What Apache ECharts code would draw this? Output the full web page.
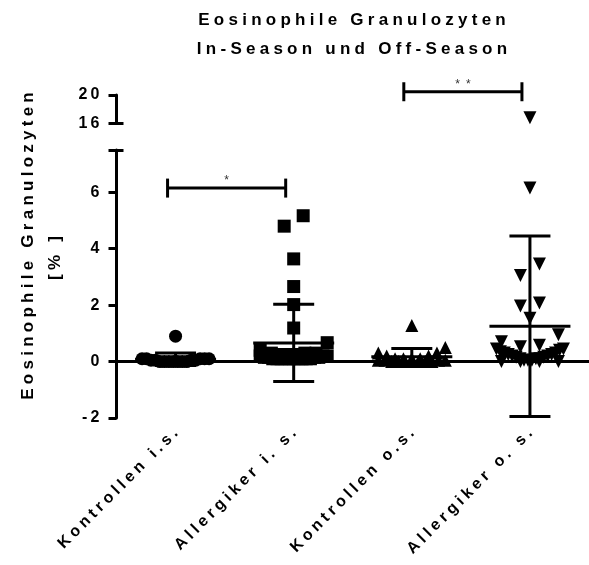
<!DOCTYPE html>
<html>
<head>
<meta charset="utf-8">
<script src="https://cdn.jsdelivr.net/npm/echarts@6/dist/echarts.min.js"></script>
<style>
  html, body { margin: 0; padding: 0; background: #fff; }
  #chart { width: 589px; height: 565px; }
</style>
</head>
<body>
<div id="chart"></div>
<script>
// Eosinophil counts (%) per group
const categories = ['Kontrollen i.s.', 'Allergiker i. s.', 'Kontrollen o.s.', 'Allergiker o. s.'];

const kontrollenIS = [0.9, 0.1, 0.1, 0.1, 0.1, 0.1, 0.05, 0.05, 0.05, 0.05, 0, 0, 0, 0, 0, 0, 0];
const allergikerIS = [5.17, 4.8, 3.64, 2.66, 2.02, 1.19, 0.67, 0.4, 0.3, 0.3, 0.3, 0.25, 0.25,
  0.2, 0.2, 0.2, 0.15, 0.15, 0.15, 0.15, 0.1, 0.1, 0.1, 0.1, 0.1, 0.1, 0.1, 0.1, 0.1, 0.1];
const kontrollenOS = [1.28, 0.5, 0.3, 0.3, 0.2, 0.2, 0.1, 0.1, 0.1, 0.1, 0.05, 0.05, 0.05, 0.05,
  0, 0, 0, 0, 0, 0, 0];
const allergikerOS = [16.8, 6.15, 3.46, 3.05, 2.08, 1.97, 1.54, 0.95, 0.7, 0.58, 0.53, 0.45, 0.45,
  0.4, 0.35, 0.3, 0.3, 0.25, 0.25, 0.2, 0.2, 0.15, 0.15, 0.1, 0.1, 0.1, 0.05, 0.05, 0.05, 0, 0, 0, 0];

// Mean ± SD per group
const groupMeans = [0.08, 0.66, 0.17, 1.25];
const groupSD = [0.22, 1.37, 0.29, 3.2];

// Significance brackets
const sigPairs = [[0, 1], [2, 3]];
const sigLevels = [6.15, 20.46];
const sigMarks = ['*', '**'];

// Axis segments (broken y axis)
const lowerTicks = [-2, 0, 2, 4, 6];
const lowerRange = [-2, 7.5];
const upperTicks = [16, 20];
const upperRange = [16, 20];

// ---- styling / layout ----
const FONT = "'Liberation Sans', Arial, Helvetica, sans-serif";
const WIDE = '\u2005';
const NARROW = '\u2009';
const spaced = (s, sp) => Array.from(String(s)).join(sp || WIDE);

const SYMBOLS = ['circle', 'rect', 'triangle', 'triangle'];
const ROTATE = [0, 0, 0, 180];
const SYMBOL_SIZE = 13;
const ROW_PX = 12;
const MAX_STEP = 19;
const MAX_SPREAD = 67;
const MEAN_HALF = 40.5;
const CAP_HALF = 20.5;
const BRACKET_SHIFT = -8;

const GRID_LEFT = 116.5;
const GRID_RIGHT = -8.3;

const groups = [kontrollenIS, allergikerIS, kontrollenOS, allergikerOS];

const chart = echarts.init(document.getElementById('chart'));

const axisLineStyle = { color: '#000', width: 3 };
const tickStyle = { color: '#000', width: 3 };
const tickLabel = { color: '#000', fontFamily: FONT, fontWeight: 'bold', fontSize: 16 };
const titleFont = 'bold 17px ' + FONT;

const baseOption = {
  animation: false,
  backgroundColor: '#fff',
  grid: [
    { left: GRID_LEFT, right: GRID_RIGHT, top: 95, height: 28.3 },
    { left: GRID_LEFT, right: GRID_RIGHT, top: 150, height: 268 }
  ],
  xAxis: [
    { type: 'category', gridIndex: 0, data: categories, show: false },
    {
      type: 'category', gridIndex: 1, data: categories,
      axisLine: { lineStyle: axisLineStyle },
      axisTick: { alignWithLabel: true, length: 7, lineStyle: tickStyle },
      axisLabel: Object.assign({}, tickLabel, {
        fontSize: 16, rotate: 45, margin: 13, interval: 0,
        formatter: v => spaced(v)
      })
    }
  ],
  yAxis: [
    {
      type: 'value', gridIndex: 0, position: 'left', min: upperRange[0], max: upperRange[1],
      splitLine: { show: false },
      axisLine: { show: true, lineStyle: axisLineStyle },
      axisTick: { show: true, length: 8, lineStyle: tickStyle, customValues: upperTicks },
      axisLabel: Object.assign({}, tickLabel, { margin: 17, customValues: upperTicks,
        formatter: v => spaced(v, NARROW) })
    },
    {
      type: 'value', gridIndex: 1, position: 'left', min: lowerRange[0], max: lowerRange[1],
      splitLine: { show: false },
      axisLine: { show: true, onZero: false, lineStyle: axisLineStyle },
      axisTick: { show: true, length: 8, lineStyle: tickStyle,
        customValues: lowerTicks.concat([lowerRange[1]]) },
      axisLabel: Object.assign({}, tickLabel, { margin: 17, customValues: lowerTicks,
        formatter: v => spaced(v, NARROW) })
    },
    {
      // inner half of the segment cap at the top of the lower segment
      type: 'value', gridIndex: 1, position: 'left', min: lowerRange[0], max: lowerRange[1],
      splitLine: { show: false }, axisLine: { show: false }, axisLabel: { show: false },
      axisTick: { show: true, inside: true, length: 7, lineStyle: tickStyle, customValues: [lowerRange[1]] }
    },
    {
      // inner half of the segment cap at the bottom of the upper segment
      type: 'value', gridIndex: 0, position: 'left', min: upperRange[0], max: upperRange[1],
      splitLine: { show: false }, axisLine: { show: false }, axisLabel: { show: false },
      axisTick: { show: true, inside: true, length: 7, lineStyle: tickStyle, customValues: [upperRange[0]] }
    }
  ],
  graphic: [
    {
      type: 'text', x: 352, y: 20,
      style: { text: spaced('Eosinophile Granulozyten'), font: titleFont, fill: '#000',
        textAlign: 'center', textVerticalAlign: 'middle' }
    },
    {
      type: 'text', x: 352, y: 49,
      style: { text: spaced('In-Season und Off-Season'), font: titleFont, fill: '#000',
        textAlign: 'center', textVerticalAlign: 'middle' }
    },
    {
      type: 'text', x: 28, y: 246, rotation: Math.PI / 2,
      style: { text: spaced('Eosinophile Granulozyten'), font: titleFont, fill: '#000',
        textAlign: 'center', textVerticalAlign: 'middle' }
    },
    {
      type: 'text', x: 55, y: 258, rotation: Math.PI / 2,
      style: { text: spaced('[% ]'), font: titleFont, fill: '#000',
        textAlign: 'center', textVerticalAlign: 'middle' }
    }
  ]
};

chart.setOption(baseOption);

// vertical pixel scale of the lower segment
const pxPerUnit = Math.abs(
  chart.convertToPixel({ yAxisIndex: 1 }, 0) - chart.convertToPixel({ yAxisIndex: 1 }, 1)
);

// Spread points horizontally: values close in height share a row, lowest in the centre
function swarmOffsets(values, scale) {
  const order = values.map((v, i) => i).sort((a, b) => values[b] - values[a]);
  const rows = [];
  let cur = null;
  order.forEach(i => {
    if (cur && (values[cur[0]] - values[i]) * scale <= ROW_PX) cur.push(i);
    else { cur = [i]; rows.push(cur); }
  });
  const off = new Array(values.length).fill(0);
  rows.forEach(row => {
    const n = row.length;
    if (n < 2) return;
    const step = Math.min(MAX_STEP, MAX_SPREAD / (n - 1));
    const slots = [];
    for (let k = 0; k < n; k++) slots.push((k - (n - 1) / 2) * step);
    slots.sort((a, b) => Math.abs(a) - Math.abs(b) || a - b);
    const byVal = row.slice().sort((a, b) => values[a] - values[b]);
    byVal.forEach((i, k) => { off[i] = slots[k]; });
  });
  return off;
}

const series = [];
groups.forEach((vals, gi) => {
  const lower = vals.filter(v => v <= lowerRange[1]);
  const upper = vals.filter(v => v >= upperRange[0]);
  const lowOff = swarmOffsets(lower, pxPerUnit);
  const common = {
    type: 'scatter', symbol: SYMBOLS[gi], symbolRotate: ROTATE[gi], symbolSize: SYMBOL_SIZE,
    itemStyle: { color: '#000', opacity: 1 }, z: 3, silent: true
  };
  series.push(Object.assign({}, common, {
    name: categories[gi], xAxisIndex: 1, yAxisIndex: 1,
    data: lower.map((v, i) => ({ value: [gi, v], symbolOffset: [lowOff[i], 0] }))
  }));
  if (upper.length) {
    const upOff = swarmOffsets(upper, pxPerUnit / 4);
    series.push(Object.assign({}, common, {
      name: categories[gi] + ' ', xAxisIndex: 0, yAxisIndex: 0,
      data: upper.map((v, i) => ({ value: [gi, v], symbolOffset: [upOff[i], 0] }))
    }));
  }
});

// mean line with SD whiskers
series.push({
  type: 'custom', xAxisIndex: 1, yAxisIndex: 1, z: 5, silent: true,
  encode: { x: 0, y: 1 },
  data: groupMeans.map((m, i) => [i, m, groupSD[i]]),
  renderItem: (params, api) => {
    const ci = api.value(0), m = api.value(1), s = api.value(2);
    const c = api.coord([ci, m]);
    const hi = api.coord([ci, m + s]);
    const lo = api.coord([ci, m - s]);
    const st = { stroke: '#000', lineWidth: 3 };
    return {
      type: 'group',
      children: [
        { type: 'line', shape: { x1: c[0] - MEAN_HALF, y1: c[1], x2: c[0] + MEAN_HALF, y2: c[1] }, style: st },
        { type: 'line', shape: { x1: c[0], y1: hi[1], x2: c[0], y2: lo[1] }, style: st },
        { type: 'line', shape: { x1: c[0] - CAP_HALF, y1: hi[1], x2: c[0] + CAP_HALF, y2: hi[1] }, style: st },
        { type: 'line', shape: { x1: c[0] - CAP_HALF, y1: lo[1], x2: c[0] + CAP_HALF, y2: lo[1] }, style: st }
      ]
    };
  }
});

// significance brackets
function bracketRenderer(params, api) {
  const a = api.coord([api.value(0), api.value(2)]);
  const b = api.coord([api.value(1), api.value(2)]);
  const y = a[1];
  const x1 = a[0] + BRACKET_SHIFT, x2 = b[0] + BRACKET_SHIFT;
  const st = { stroke: '#000', lineWidth: 3 };
  const mark = sigMarks[api.value(3)];
  return {
    type: 'group',
    children: [
      { type: 'line', shape: { x1: x1, y1: y, x2: x2, y2: y }, style: st },
      { type: 'line', shape: { x1: x1, y1: y - 9.5, x2: x1, y2: y + 9.5 }, style: st },
      { type: 'line', shape: { x1: x2, y1: y - 9.5, x2: x2, y2: y + 9.5 }, style: st },
      { type: 'text', x: (x1 + x2) / 2, y: y - 7,
        style: { text: spaced(mark, '\u2002'), font: '12px ' + FONT, fill: '#333',
          textAlign: 'center', textVerticalAlign: 'middle' } }
    ]
  };
}
sigPairs.forEach((p, i) => {
  const inUpper = sigLevels[i] > lowerRange[1];
  series.push({
    type: 'custom', silent: true, clip: false, z: 5,
    xAxisIndex: inUpper ? 0 : 1, yAxisIndex: inUpper ? 0 : 1,
    encode: { x: 0, y: 2 },
    data: [[p[0], p[1], sigLevels[i], i]],
    renderItem: bracketRenderer
  });
});

chart.setOption({ series: series });
</script>
</body>
</html>
